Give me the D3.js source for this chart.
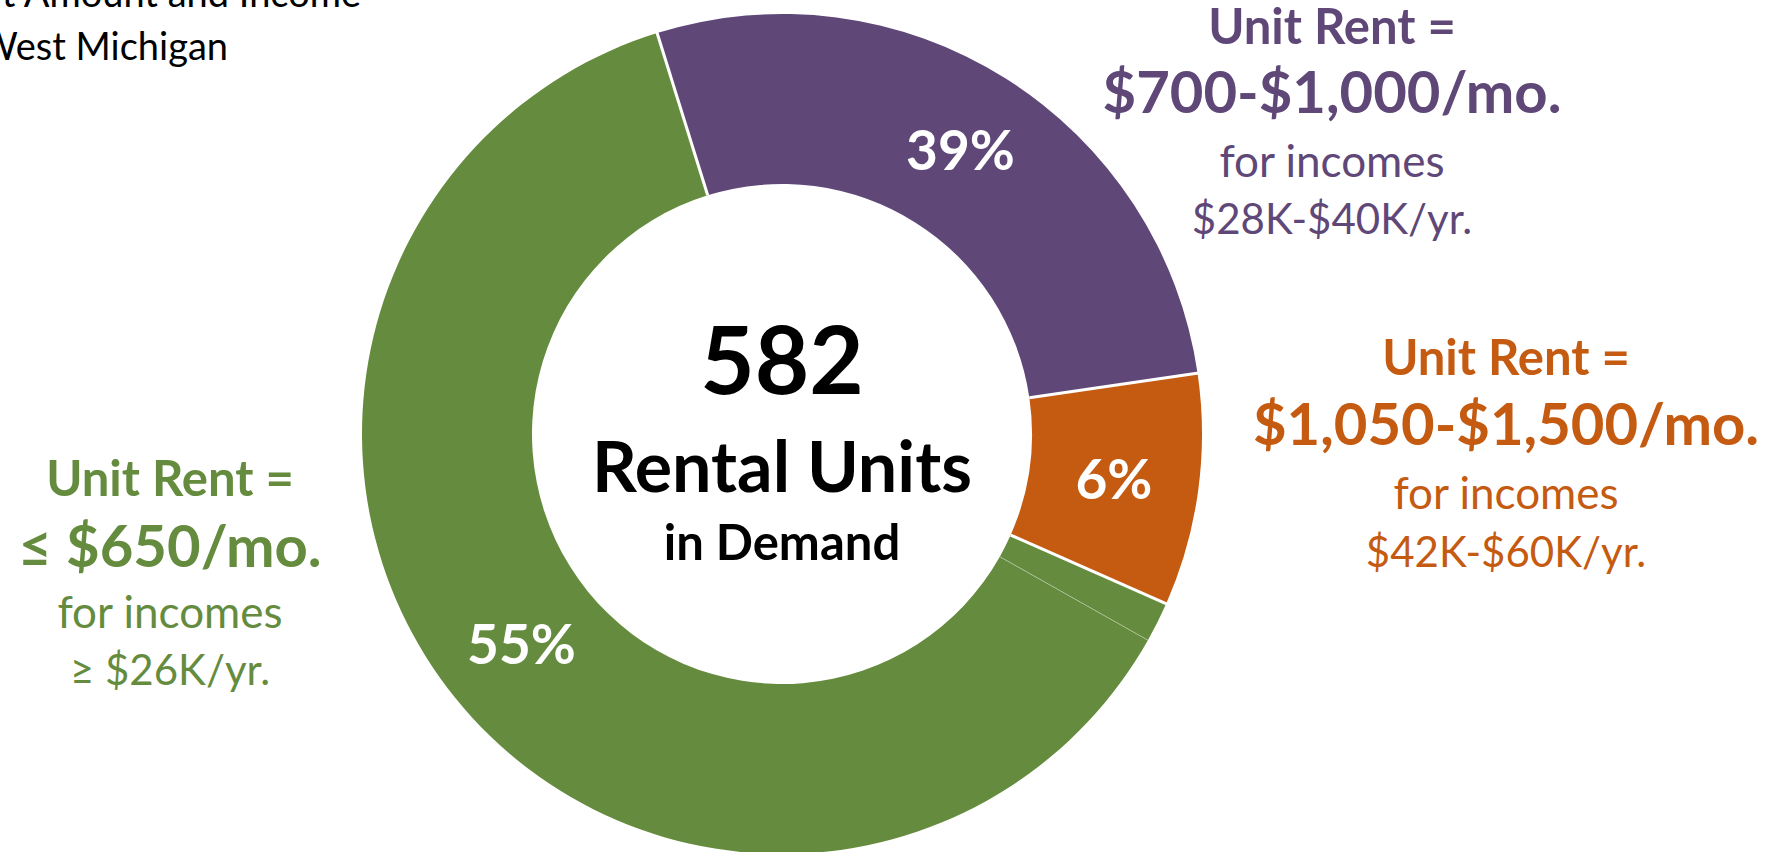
<!DOCTYPE html>
<html>
<head>
<meta charset="utf-8">
<script src="https://cdn.jsdelivr.net/npm/d3@7"></script>
<style>
  body { margin: 0; background: #fff; }
  svg { display: block; font-family: Lato, "Open Sans", sans-serif; }
</style>
</head>
<body>
<svg id="svg" width="1767" height="852"></svg>
<script>
// rental units in demand by rent band
const categories = ['$700-$1,000', '$1,050-$1,500', 'Other', '≤ $650']
const units = [160, 52, 9, 361]
const pctLabels = ['39%', '6%', '', '55%']
const colors = ['#5f4878', '#c55a11', '#658c3e', '#658c3e']

const totalLabel = ['582', 'Rental Units', 'in Demand']
const titleLines = ['Rental Demand by Rent Amount and Income', 'West Michigan']

const purpleText = ['Unit Rent =', '$700-$1,000/mo.', 'for incomes', '$28K-$40K/yr.']
const orangeText = ['Unit Rent =', '$1,050-$1,500/mo.', 'for incomes', '$42K-$60K/yr.']
const greenText = ['Unit Rent =', '≤ $650/mo.', 'for incomes', '≥ $26K/yr.']

const svg = d3.select('#svg')
const cx = 782, cy = 434
const rOuter = 420, rInner = 250
const start = -17.3 * Math.PI / 180

const pie = d3.pie().sort(null)
    .startAngle(start)
    .endAngle(start + 2 * Math.PI)
const arcs = pie(units)
const arc = d3.arc().innerRadius(rInner).outerRadius(rOuter)

const g = svg.append('g').attr('transform', `translate(${cx},${cy})`)

g.selectAll('path.slice')
    .data(arcs)
    .enter()
    .append('path')
    .attr('class', 'slice')
    .attr('d', arc)
    .attr('fill', (d, i) => colors[i])

// separators at each slice start
g.selectAll('line.sep')
    .data(arcs)
    .enter()
    .append('line')
    .attr('x1', d => rInner * Math.sin(d.startAngle))
    .attr('y1', d => -rInner * Math.cos(d.startAngle))
    .attr('x2', d => (rOuter + 1) * Math.sin(d.startAngle))
    .attr('y2', d => -(rOuter + 1) * Math.cos(d.startAngle))
    .attr('stroke', (d, i) => i === 3 ? 'rgba(255,255,255,0.35)' : '#fff')
    .attr('stroke-width', (d, i) => i === 3 ? 1 : 3)

g.selectAll('text.pct')
    .data(arcs)
    .enter()
    .append('text')
    .attr('transform', d => `translate(${arc.centroid(d)})`)
    .attr('text-anchor', 'middle')
    .attr('dy', '0.36em')
    .attr('fill', '#fff')
    .attr('font-weight', 700)
    .attr('font-size', 55)
    .text((d, i) => pctLabels[i])

// centre text
const centreSizes = [94, 70, 49]
const centreY = [394, 492, 560]
svg.selectAll('text.centre')
    .data(totalLabel)
    .enter()
    .append('text')
    .attr('x', cx)
    .attr('y', (d, i) => centreY[i])
    .attr('text-anchor', 'middle')
    .attr('font-weight', 700)
    .attr('font-size', (d, i) => centreSizes[i])
    .attr('fill', '#000')
    .text(d => d)

// side annotations
function block(lines, x, ys, color) {
    const sizes = [49, 58, 44, 42]
    svg.append('g').selectAll('text')
        .data(lines)
        .enter()
        .append('text')
        .attr('x', x)
        .attr('y', (d, i) => ys[i])
        .attr('text-anchor', 'middle')
        .attr('font-weight', (d, i) => i < 2 ? 700 : 400)
        .attr('font-size', (d, i) => sizes[i])
        .attr('fill', color)
        .text(d => d)
}
block(purpleText, 1332, [44, 113, 177, 234], colors[0])
block(orangeText, 1506, [375, 445, 509, 567], colors[1])
block(greenText, 170, [496, 567, 628, 685], colors[2])

// title, clipped at the top-left edge
svg.selectAll('text.title')
    .data(titleLines)
    .enter()
    .append('text')
    .attr('x', (d, i) => i === 0 ? 361 : 228)
    .attr('y', (d, i) => i === 0 ? 7 : 60)
    .attr('text-anchor', 'end')
    .attr('font-size', 38)
    .attr('fill', '#000')
    .text(d => d)
</script>
</body>
</html>
